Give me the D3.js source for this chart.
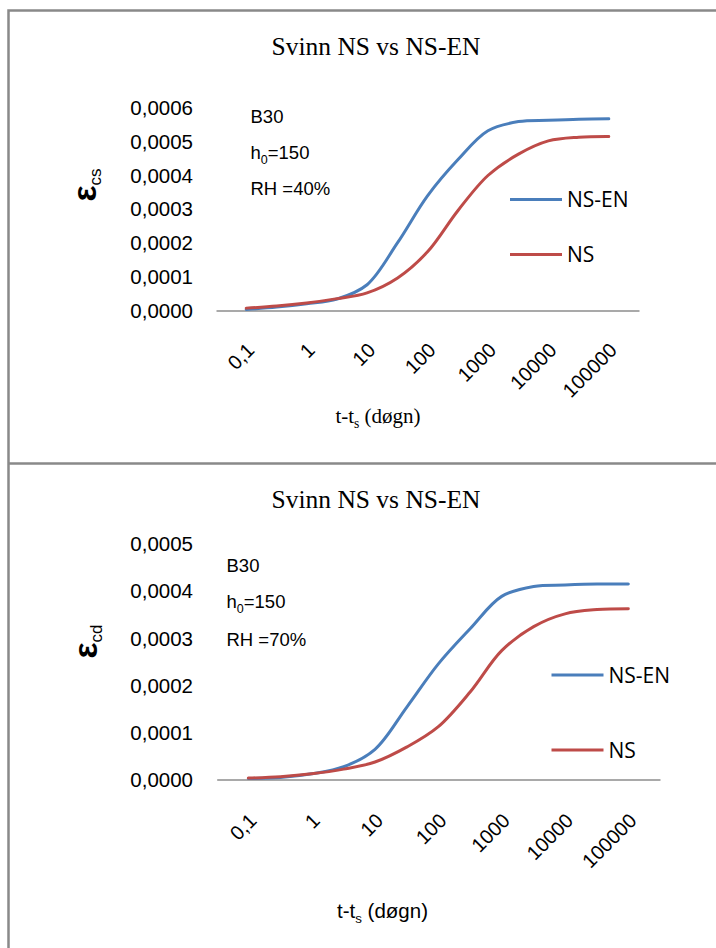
<!DOCTYPE html>
<html>
<head>
<meta charset="utf-8">
<script src="https://cdn.jsdelivr.net/npm/d3@7"></script>
<style>
  html, body { margin: 0; padding: 0; background: #fff; }
  svg { display: block; }
</style>
</head>
<body>
<script>
// ---------------- data ----------------
const timePoints = [0.1, 0.32, 1, 3.2, 10, 32, 100, 320, 1000, 3200, 10000, 32000, 100000];
const xTickValues = [0.1, 1, 10, 100, 1000, 10000, 100000];
const xTickLabels = ["0,1", "1", "10", "100", "1000", "10000", "100000"];

// Chart 1 (RH = 40 %)
const nsEnTop = [0.000003, 0.000010, 0.000020, 0.000034, 0.000076, 0.000200, 0.000338, 0.000445, 0.000530, 0.000557, 0.000561, 0.000564, 0.000565];
const nsTop   = [0.000007, 0.000013, 0.000022, 0.000035, 0.000052, 0.000096, 0.000173, 0.000295, 0.000398, 0.000461, 0.000500, 0.000511, 0.000513];
const yTicksTop = [0, 0.0001, 0.0002, 0.0003, 0.0004, 0.0005, 0.0006];

// Chart 2 (RH = 70 %)
const nsEnBottom = [0.000002, 0.000004, 0.000012, 0.000027, 0.000064, 0.000154, 0.000245, 0.000320, 0.000388, 0.000409, 0.000412, 0.000414, 0.000414];
const nsBottom   = [0.000003, 0.000006, 0.000012, 0.000022, 0.000037, 0.000069, 0.000112, 0.000186, 0.000273, 0.000324, 0.000351, 0.000360, 0.000362];
const yTicksBottom = [0, 0.0001, 0.0002, 0.0003, 0.0004, 0.0005];

const seriesNames = ["NS-EN", "NS"];
const titleText = "Svinn NS vs NS-EN";
const notesTop = ["B30", "h0=150", "RH =40%"];
const notesBottom = ["B30", "h0=150", "RH =70%"];

// ---------------- drawing ----------------
const W = 716, H = 948;
const BLUE = "#4a7ebb", RED = "#be4b48", GRAY = "#898989";
const SANS = "'Liberation Sans', Arial, sans-serif";
const SERIF = "'Liberation Serif', 'Times New Roman', serif";
const LEG = "'Open Sans', sans-serif";

const svg = d3.select("body").append("svg").attr("width", W).attr("height", H);
svg.append("rect").attr("width", W).attr("height", H).attr("fill", "#fff");

// frame
svg.append("path")
  .attr("d", `M8.5,${H} V10.5 H${W}`)
  .attr("fill", "none").attr("stroke", GRAY).attr("stroke-width", 2.5);
svg.append("line")
  .attr("x1", 8.5).attr("x2", W).attr("y1", 463.5).attr("y2", 463.5)
  .attr("stroke", GRAY).attr("stroke-width", 2.5);

function drawChart(cfg) {
  const g = svg.append("g");
  const half = Math.sqrt(10);
  const x = d3.scaleLog().domain([0.1 / half, 100000 * half]).range([cfg.x0, cfg.x1]);
  const y = d3.scaleLinear().domain([0, cfg.yMax]).range([cfg.y0, cfg.yTop]);

  // title
  g.append("text").attr("x", 376).attr("y", cfg.titleY)
    .attr("text-anchor", "middle").attr("font-family", SERIF).attr("font-size", 25.5)
    .attr("fill", "#000").text(titleText);

  // y axis (labels only)
  const ya = g.append("g").attr("transform", `translate(${cfg.yLabelX},0)`)
    .call(d3.axisLeft(y).tickValues(cfg.yTicks).tickSize(0).tickPadding(0)
      .tickFormat(d => d.toFixed(4).replace(".", ",")));
  ya.select(".domain").remove();
  ya.selectAll("text").attr("font-family", SANS).attr("font-size", 20.5).attr("fill", "#000")
    .attr("dy", "0.35em");

  // x axis
  const xa = g.append("g").attr("transform", `translate(0,${cfg.y0})`)
    .call(d3.axisBottom(x).tickValues(xTickValues).tickSize(0).tickSizeOuter(0)
      .tickFormat((d, i) => xTickLabels[i]));
  xa.select(".domain").attr("stroke", "#8c8c8c").attr("stroke-width", 1.6);
  xa.selectAll("text")
    .attr("font-family", SANS).attr("font-size", 20).attr("fill", "#000")
    .attr("x", 0).attr("y", 0).attr("dy", "0.35em")
    .attr("text-anchor", "end")
    .attr("transform", `translate(4,${cfg.tickDrop}) rotate(-45)`);

  // x axis title
  const xt = g.append("text").attr("x", cfg.xTitleX).attr("y", cfg.xTitleY)
    .attr("text-anchor", "middle").attr("font-family", cfg.xTitleFont)
    .attr("font-size", cfg.xTitleSize).attr("fill", "#000");
  xt.append("tspan").text("t-t");
  xt.append("tspan").attr("dy", 5).attr("font-size", cfg.xTitleSize * 0.65).text("s");
  xt.append("tspan").attr("dy", -5).text(" (døgn)");

  // y axis title (rotated)
  const yt = g.append("text")
    .attr("transform", `translate(${cfg.yTitleX},${cfg.yTitleY}) rotate(-90)`)
    .attr("text-anchor", "middle").attr("font-family", SANS).attr("fill", "#000");
  yt.append("tspan").attr("font-size", 34).attr("font-weight", "bold").text("ε");
  yt.append("tspan").attr("font-size", 17).attr("dy", 5).text(cfg.ySub);

  // annotations
  cfg.notes.forEach((t, i) => {
    const tx = g.append("text").attr("x", cfg.noteX).attr("y", cfg.noteY[i])
      .attr("font-family", SANS).attr("font-size", 18.5).attr("fill", "#000");
    if (t.startsWith("h0")) {
      tx.append("tspan").text("h");
      tx.append("tspan").attr("dy", 5).attr("font-size", 12.5).text("0");
      tx.append("tspan").attr("dy", -5).text(t.slice(2));
    } else {
      tx.text(t);
    }
  });

  // lines
  const line = d3.line()
    .x((d, i) => x(timePoints[i]))
    .y(d => y(d))
    .curve(d3.curveCatmullRom.alpha(0.5));
  [[cfg.nsEn, BLUE], [cfg.ns, RED]].forEach(([vals, col]) => {
    g.append("path").datum(vals).attr("d", line)
      .attr("fill", "none").attr("stroke", col).attr("stroke-width", 3)
      .attr("stroke-linejoin", "round").attr("stroke-linecap", "round");
  });

  // legend
  [[seriesNames[0], BLUE, cfg.legY[0]], [seriesNames[1], RED, cfg.legY[1]]].forEach(([name, col, ly]) => {
    g.append("line").attr("x1", cfg.legX).attr("x2", cfg.legX + 52)
      .attr("y1", ly).attr("y2", ly).attr("stroke", col).attr("stroke-width", 3);
    g.append("text").attr("x", cfg.legX + 57).attr("y", ly).attr("dy", "0.36em")
      .attr("font-family", LEG).attr("font-size", 21).attr("fill", "#000").text(name);
  });
}

drawChart({
  x0: 216, x1: 639, y0: 310.5, yTop: 107, yMax: 0.0006, yTicks: yTicksTop,
  yLabelX: 193, titleY: 54.5, tickDrop: 36,
  xTitleX: 378, xTitleY: 423, xTitleFont: SERIF, xTitleSize: 21,
  yTitleX: 96, yTitleY: 185, ySub: "cs",
  notes: notesTop, noteX: 250.5, noteY: [122.5, 158.5, 195],
  nsEn: nsEnTop, ns: nsTop, legX: 510, legY: [199.5, 254.5]
});

drawChart({
  x0: 216.7, x1: 660, y0: 779.5, yTop: 543.5, yMax: 0.0005, yTicks: yTicksBottom,
  yLabelX: 193, titleY: 507.5, tickDrop: 37.5,
  xTitleX: 382.5, xTitleY: 918, xTitleFont: SANS, xTitleSize: 20.5,
  yTitleX: 97, yTitleY: 641.5, ySub: "cd",
  notes: notesBottom, noteX: 226.5, noteY: [571.5, 608, 645.5],
  nsEn: nsEnBottom, ns: nsBottom, legX: 551.5, legY: [675, 750]
});
</script>
</body>
</html>
